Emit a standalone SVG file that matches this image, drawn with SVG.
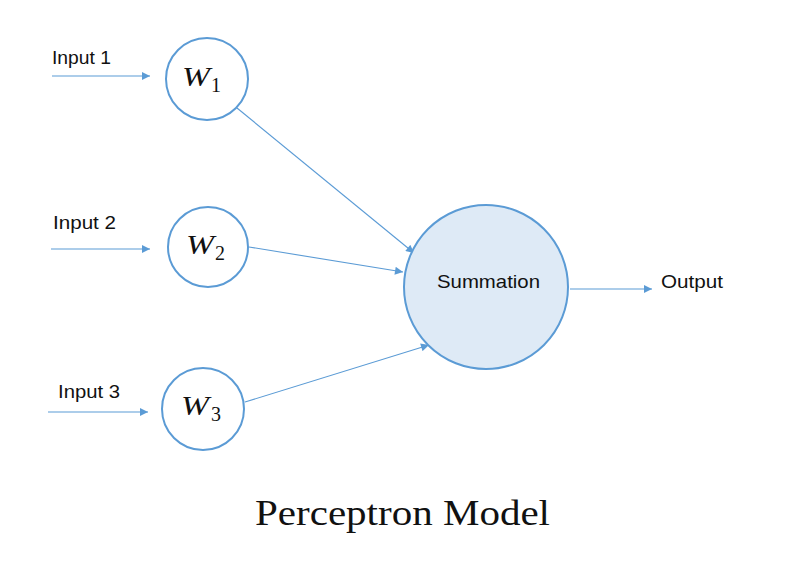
<svg xmlns="http://www.w3.org/2000/svg" width="794" height="568" viewBox="0 0 794 568">
<defs>
<marker id="arr" viewBox="0 0 10 10" refX="10" refY="5" markerWidth="9" markerHeight="8" markerUnits="userSpaceOnUse" orient="auto">
<path d="M0,0 L10,5 L0,10 z" fill="#5B9BD5"/>
</marker>
</defs>
<style>
.node{fill:#fff;stroke:#5B9BD5;stroke-width:2}
.sum{fill:#DEEAF6;stroke:#5B9BD5;stroke-width:2}
.lbl{font-family:"Liberation Sans",Arial,sans-serif;font-size:19px;fill:#111}
.w{font-family:"Liberation Serif","DejaVu Serif",serif;font-style:italic;font-size:28px;fill:#111}
.sub{font-family:"Liberation Serif","DejaVu Serif",serif;font-size:20px;fill:#111}
.conn line{stroke:#5B9BD5;stroke-width:1.1;fill:none;marker-end:url(#arr)}
.title{font-family:"Liberation Serif","Times New Roman",serif;font-size:35px;fill:#111}
</style>
<rect width="794" height="568" fill="#fff"/>
<g id="connectors" class="conn">
<line x1="52" y1="76" x2="150" y2="76"/>
<line x1="51" y1="249" x2="150" y2="249"/>
<line x1="48" y1="412" x2="148" y2="412"/>
<line x1="237" y1="108" x2="414" y2="253"/>
<line x1="249" y1="247" x2="403" y2="272"/>
<line x1="245" y1="402" x2="429" y2="345"/>
<line x1="570" y1="289" x2="652" y2="289"/>
</g>
<g id="input1"><text class="lbl" x="52" y="64" textLength="59" lengthAdjust="spacingAndGlyphs">Input 1</text></g>
<g id="input2"><text class="lbl" x="53" y="229" textLength="63" lengthAdjust="spacingAndGlyphs">Input 2</text></g>
<g id="input3"><text class="lbl" x="58" y="398" textLength="62" lengthAdjust="spacingAndGlyphs">Input 3</text></g>
<g id="w1">
<circle class="node" cx="207" cy="79" r="41"/>
<text class="w" x="182" y="86" textLength="28" lengthAdjust="spacingAndGlyphs">W</text><text class="sub" x="211" y="92">1</text>
</g>
<g id="w2">
<circle class="node" cx="208" cy="247" r="40"/>
<text class="w" x="186" y="254" textLength="28" lengthAdjust="spacingAndGlyphs">W</text><text class="sub" x="215" y="260">2</text>
</g>
<g id="w3">
<circle class="node" cx="203" cy="409" r="41"/>
<text class="w" x="181" y="415" textLength="28" lengthAdjust="spacingAndGlyphs">W</text><text class="sub" x="211" y="421">3</text>
</g>
<g id="summation">
<circle class="sum" cx="486" cy="287" r="82"/>
<text class="lbl" x="437" y="288" textLength="103" lengthAdjust="spacingAndGlyphs">Summation</text>
</g>
<g id="output"><text class="lbl" x="661" y="288" textLength="62" lengthAdjust="spacingAndGlyphs">Output</text></g>
<text class="title" x="255" y="525" textLength="295" lengthAdjust="spacingAndGlyphs">Perceptron Model</text>
</svg>
